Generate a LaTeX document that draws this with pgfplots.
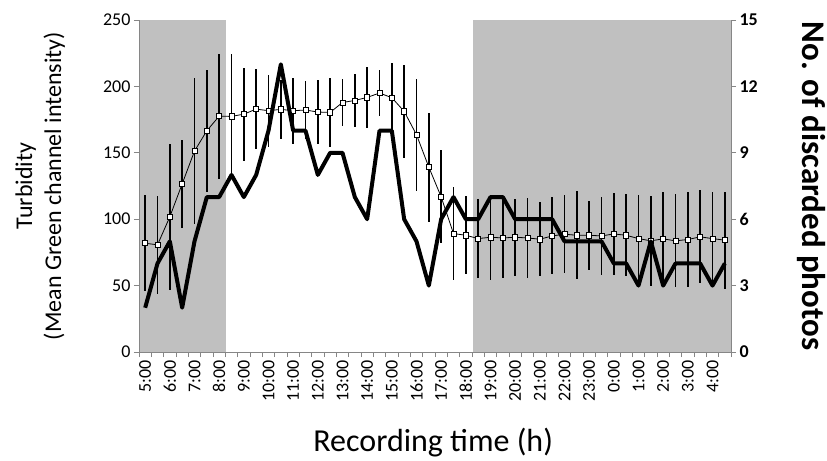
\documentclass[border=0pt]{standalone}
\usepackage{fontspec}
\setmainfont{Carlito}
\usepackage{pgfplots}
\usepackage{pgfplotstable}
\pgfplotsset{compat=1.18}

\definecolor{shade}{RGB}{192,192,192}
\definecolor{axisgray}{RGB}{134,134,134}

% turbidity: mean and sd, one row per half hour from 5:00
\pgfplotstableread{
x y e
0 81.9 36
1 80.7 37
2 101.8 55
3 126.6 33
4 151.3 55
5 166.6 46
6 177.6 47
7 177.4 47
8 179.1 35
9 182.9 30
10 181.7 27
11 182.7 22
12 181.7 25
13 182.2 22
14 180.7 24
15 180.4 26
16 187.9 18
17 189.4 20
18 191.7 23
19 195.0 17.5
20 191.5 26
21 181.2 35
22 163.6 42
23 139.2 41
24 116.8 35
25 89.2 35
26 87.9 29.5
27 85.4 30
28 86.4 32
29 85.9 30
30 86.4 29
31 85.9 30
32 84.9 28
33 87.4 29
34 88.7 29.5
35 87.9 33
36 87.9 26
37 87.4 29.5
38 88.9 31
39 87.9 31
40 85.4 33
41 83.7 34
42 85.2 35
43 83.7 35
44 84.7 36
45 86.7 35
46 85.4 35
47 84.2 36.5
}\turbidity

\pgfplotstableread{
x n
0 2
1 4
2 5
3 2
4 5
5 7
6 7
7 8
8 7
9 8
10 10
11 13
12 10
13 10
14 8
15 9
16 9
17 7
18 6
19 10
20 10
21 6
22 5
23 3
24 6
25 7
26 6
27 6
28 7
29 7
30 6
31 6
32 6
33 6
34 5
35 5
36 5
37 5
38 4
39 4
40 3
41 5
42 3
43 4
44 4
45 4
46 3
47 4
}\discarded

\pgfplotsset{
  base/.style={scale only axis, width=592bp, height=332bp,
    xmin=-0.5, xmax=47.5,
    /pgf/number format/assume math mode=true,
    tick align=outside,
    axis line style={axisgray, line width=0.8bp},
    tick style={axisgray, line width=0.8bp},
    major tick length=5bp, minor tick length=5bp,
    tick label style={font=\fontsize{18bp}{20bp}\selectfont}},
}

\begin{document}
\begin{tikzpicture}
\begin{axis}[base, axis on top,
  ymin=0, ymax=250,
  axis y line*=left, axis x line*=bottom,
  ytick={0,50,...,250},
  xtick={0,2,...,46},
  xticklabels={5:00,6:00,7:00,8:00,9:00,10:00,11:00,12:00,13:00,14:00,15:00,16:00,17:00,18:00,19:00,20:00,21:00,22:00,23:00,0:00,1:00,2:00,3:00,4:00},
  minor xtick={-0.5,0.5,...,47.5},
  major x tick style={draw=none},
  x tick label style={rotate=90, anchor=east},
  ylabel={Turbidity\\(Mean Green channel intensity)},
  every axis y label/.style={at={(axis description cs:-0.167,0.5)}, anchor=center, rotate=90,
    align=center, font=\fontsize{24bp}{29bp}\selectfont},
  xlabel={Recording time (h)},
  every axis x label/.style={at={(axis description cs:0.497,-0.301)}, anchor=base,
    font=\fontsize{32bp}{38bp}\selectfont},
]
\addplot[fill=shade, draw=none] coordinates {(-0.5,250) (6.55,250)} \closedcycle;
\addplot[fill=shade, draw=none] coordinates {(26.55,250) (47.5,250)} \closedcycle;
\addplot[black, line width=0.8bp, mark=square*, mark size=2.6bp,
  mark options={fill=white, draw=black, line width=0.7bp},
  error bars/.cd, y dir=both, y explicit, error mark=none,
  error bar style={line width=1.4bp, black}]
  table[x=x, y=y, y error=e] {\turbidity};
\end{axis}
\begin{axis}[base,
  ymin=0, ymax=15,
  axis y line*=right, axis x line=none,
  ytick={0,3,...,15},
  yticklabel style={font=\bfseries\fontsize{18bp}{20bp}\selectfont},
  ylabel={No. of discarded photos},
  every axis y label/.style={at={(axis description cs:1.121,0.5)}, anchor=base, rotate=-90,
    font=\bfseries\fontsize{33bp}{40bp}\selectfont},
]
\addplot[black, line width=4bp, line join=round] table[x=x, y=n] {\discarded};
\end{axis}
\pgfresetboundingbox
\path[use as bounding box] (current axis.south west) ++(-139bp,-109bp) rectangle ++(827bp,461bp);
\end{tikzpicture}
\end{document}
